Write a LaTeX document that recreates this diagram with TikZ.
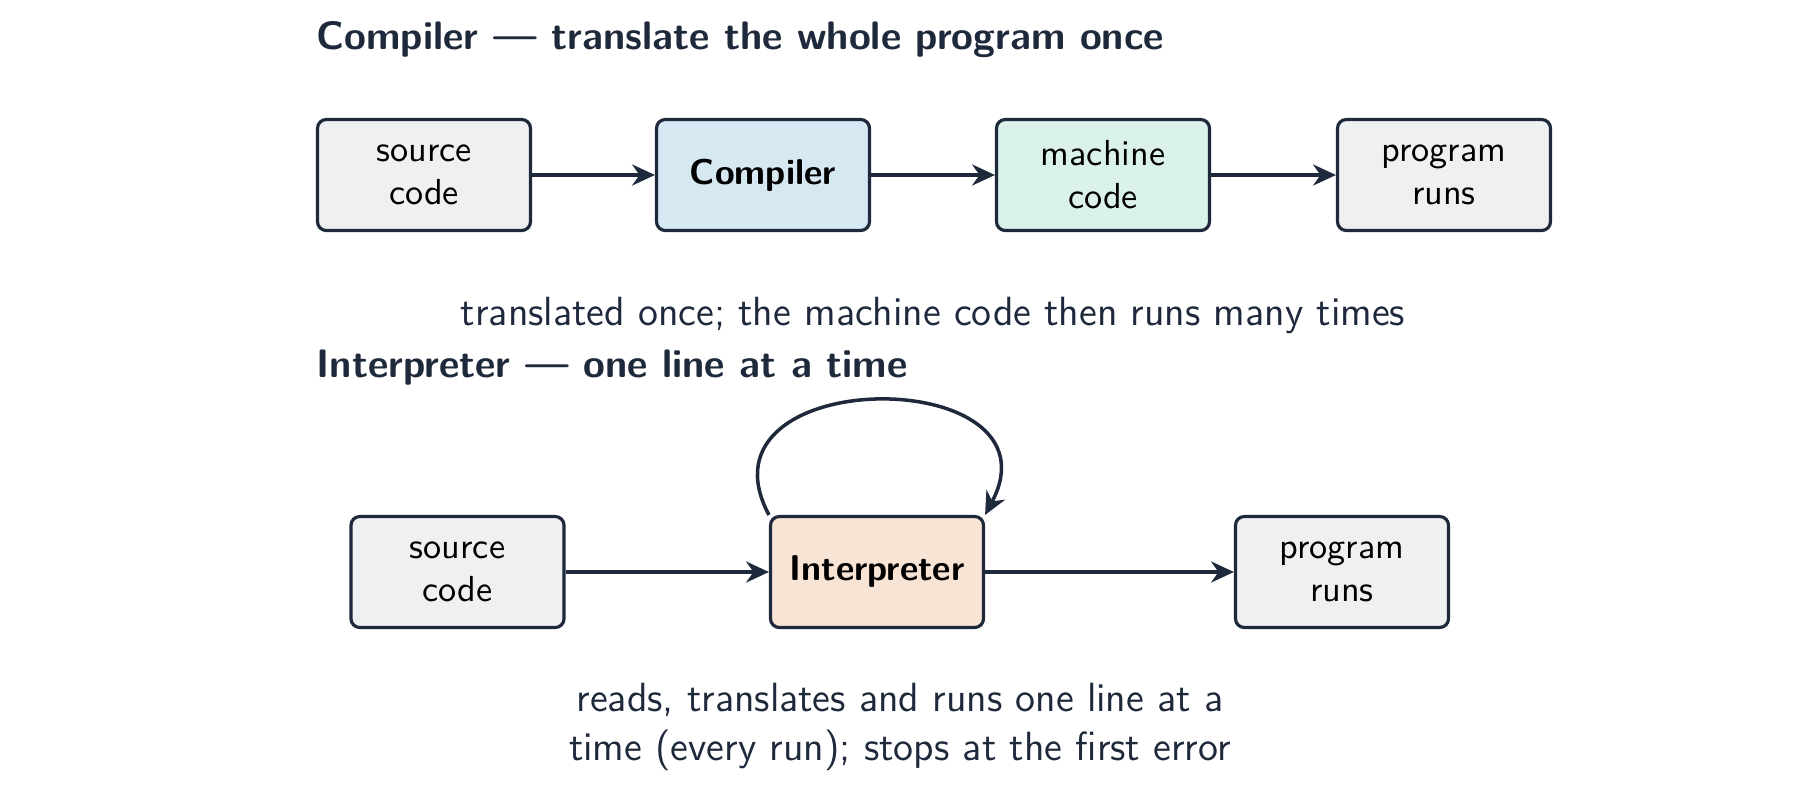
\documentclass[tikz,border=0pt]{standalone}
\usepackage{tikz}
\usetikzlibrary{positioning, arrows.meta, shapes, calc}
\usepackage{xcolor}
\renewcommand{\familydefault}{\sfdefault}

\definecolor{ink}{HTML}{1E293B}
\definecolor{grayfill}{HTML}{EFF0F2}
\definecolor{bluefill}{HTML}{D6E8F2}
\definecolor{greenfill}{HTML}{DAF2EA}
\definecolor{orangefill}{HTML}{F8E4D4}

\tikzset{
  box/.style={draw=ink, line width=0.9pt, rounded corners=2.5pt, minimum width=2.13cm,
    minimum height=1.11cm, align=center, text=black, font=\fontsize{10.3}{12.2}\selectfont},
  keybox/.style={box, font=\fontsize{10.2}{12.2}\selectfont\bfseries},
  arr/.style={-{Stealth[length=6.5pt,width=6pt]}, draw=ink, line width=0.9pt},
  heading/.style={anchor=west, text=ink, font=\fontsize{11.3}{14}\selectfont\bfseries, inner sep=0pt},
  note/.style={text=ink, align=center, font=\fontsize{11.6}{14}\selectfont, inner sep=0pt}
}

\begin{document}
\begin{tikzpicture}
\useasboundingbox (0,0) rectangle (18,-7.93);

% Compiler row
\node[heading] (head1) at (3.16,-0.4) {Compiler --- translate the whole program once};
\node[box, fill=grayfill] (src1) at (4.24,-1.75) {source\\code};
\node[keybox, fill=bluefill] (comp) at (7.63,-1.75) {Compiler};
\node[box, fill=greenfill] (mach) at (11.03,-1.75) {machine\\code};
\node[box, fill=grayfill] (run1) at (14.44,-1.75) {program\\runs};

\draw[arr] (src1) -- (comp);
\draw[arr] (comp) -- (mach);
\draw[arr] (mach) -- (run1);

\node[note] (note1) at (9.33,-3.15) {translated once; the machine code then runs many times};

% Interpreter row
\node[heading] (head2) at (3.16,-3.68) {Interpreter --- one line at a time};
\node[box, fill=grayfill] (src2) at (4.575,-5.72) {source\\code};
\node[keybox, fill=orangefill] (interp) at (8.77,-5.72) {Interpreter};
\node[box, fill=grayfill] (run2) at (13.42,-5.72) {program\\runs};

\draw[arr] (src2) -- (interp);
\draw[arr] (interp) -- (run2);
% line by line loop
\draw[arr, line width=1pt] (interp.north west) to[out=118, in=62, looseness=2.05] (interp.north east);

\node[note] (note2) at (9.0,-7.27) {reads, translates and runs one line at a\\time (every run); stops at the first error};
\end{tikzpicture}
\end{document}
